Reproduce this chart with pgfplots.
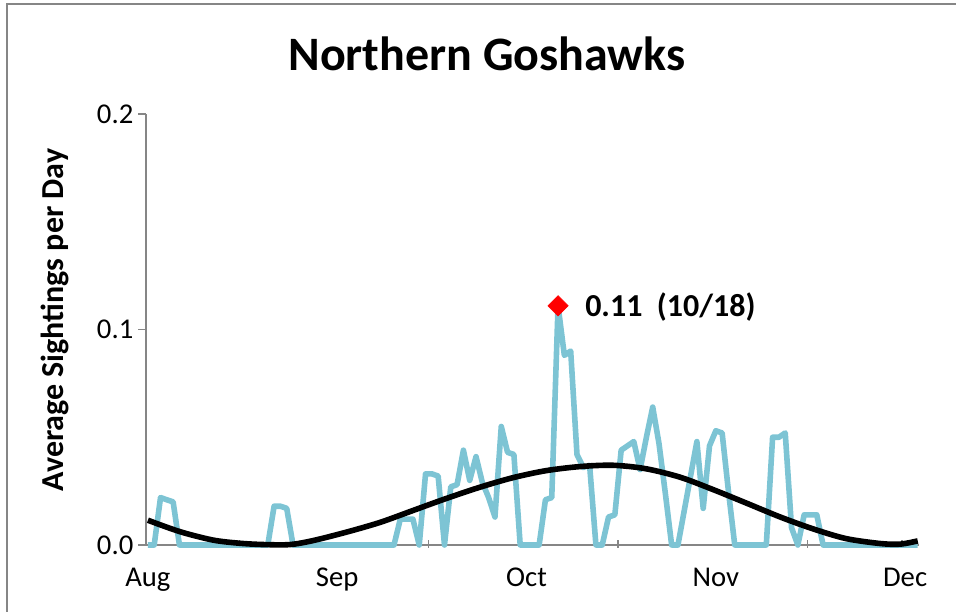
\documentclass[border=0pt]{standalone}
\usepackage{fontspec}
\setmainfont{Carlito}
\usepackage{pgfplots}
\usepackage{pgfplotstable}
\pgfplotsset{compat=1.18}
\definecolor{seriesblue}{RGB}{125,196,212}
\definecolor{axisgray}{RGB}{134,134,134}
\pgfplotstableread{
k v
0 0
1 0
2 0.022
3 0.021
4 0.020
5 0
6 0
7 0
8 0
9 0
10 0
11 0
12 0
13 0
14 0
15 0
16 0
17 0
18 0
19 0
20 0.018
21 0.018
22 0.017
23 0
24 0
25 0
26 0
27 0
28 0
29 0
30 0
31 0
32 0
33 0
34 0
35 0
36 0
37 0
38 0
39 0
40 0.012
41 0.012
42 0.012
43 0
44 0.033
45 0.033
46 0.032
47 0
48 0.027
49 0.028
50 0.044
51 0.030
52 0.041
53 0.029
54 0.022
55 0.013
56 0.055
57 0.043
58 0.042
59 0
60 0
61 0
62 0
63 0.021
64 0.022
65 0.111
66 0.088
67 0.090
68 0.042
69 0.036
70 0.037
71 0
72 0
73 0.013
74 0.014
75 0.044
76 0.046
77 0.048
78 0.035
79 0.050
80 0.064
81 0.047
82 0.024
83 0
84 0
85 0.016
86 0.032
87 0.048
88 0.017
89 0.046
90 0.053
91 0.052
92 0.025
93 0
94 0
95 0
96 0
97 0
98 0
99 0.050
100 0.050
101 0.052
102 0.008
103 0
104 0.014
105 0.014
106 0.014
107 0
108 0
109 0
110 0
111 0
112 0
113 0
114 0
115 0
116 0
117 0
118 0
119 0
120 0
121 0
122 0
}\sightings
\pgfplotstableread{
k v
0 0.0115
5.07 0.0062
10.3 0.0023
14.6 0.0008
18.5 0.0002
22.5 0.0002
26.1 0.0020
31.5 0.0060
36.8 0.0105
42.0 0.0160
47.2 0.0215
52.6 0.0268
57.8 0.0312
63.1 0.0345
68.5 0.0364
73.7 0.0370
78.9 0.0354
84.3 0.0315
89.5 0.0258
94.8 0.0195
100.2 0.0130
105.4 0.0075
110.6 0.0030
116.0 0.0007
119.2 0.0004
122.0 0.0019
}\trend
\begin{document}
\begin{tikzpicture}
\useasboundingbox (0,0) rectangle (717pt,458.25pt);
\draw[axisgray, line width=0.9pt] (5.25pt,-5pt) -- (5.25pt,455.25pt) -- (725pt,455.25pt);
\begin{axis}[
  at={(109.5pt,49.5pt)}, anchor=south west,
  width=579.75pt, height=323.25pt, scale only axis,
  xmin=-0.3, xmax=122.2, ymin=0, ymax=0.2,
  axis lines=left,
  axis line style={-, draw=axisgray, line width=1pt},
  clip=false,
  tick align=outside,
  major tick length=6pt,
  tick style={draw=axisgray, line width=1pt},
  xtick={14.5,44.5,74.5,104.5,119.5},
  xticklabels={,,,,},
  xtick style={yshift=4pt},
  extra x ticks={0,30,60,90,120},
  extra x tick labels={Aug,Sep,Oct,Nov,Dec},
  extra x tick style={major tick length=0pt},
  ytick={0,0.1,0.2},
  yticklabels={0.0,0.1,0.2},
  ticklabel style={font=\fontsize{21.5}{26}\selectfont},
  xticklabel style={yshift=-14pt},
  /pgf/number format/assume math mode=true,
]
\addplot[seriesblue, line width=4.2pt, line join=round] table[x=k,y=v] {\sightings};
\addplot[black, line width=4.2pt, smooth] table[x=k,y=v] {\trend};
\addplot[only marks, mark=square*, mark size=5.4pt, mark options={rotate=45, fill=red, draw=red}] coordinates {(65,0.111)};
\node[anchor=base west, font=\fontsize{24}{28}\selectfont\bfseries, inner sep=0pt] at (axis description cs:0.5679,0.529) {0.11\ \ (10/18)};
\node[anchor=base, font=\fontsize{36}{42}\selectfont\bfseries, inner sep=0pt] at (axis description cs:0.441,1.102) {Northern Goshawks};
\node[rotate=90, anchor=center, font=\fontsize{24}{28}\selectfont\bfseries, inner sep=0pt] at (axis description cs:-0.1177,0.522) {Average Sightings per Day};
\end{axis}
\end{tikzpicture}
\end{document}
